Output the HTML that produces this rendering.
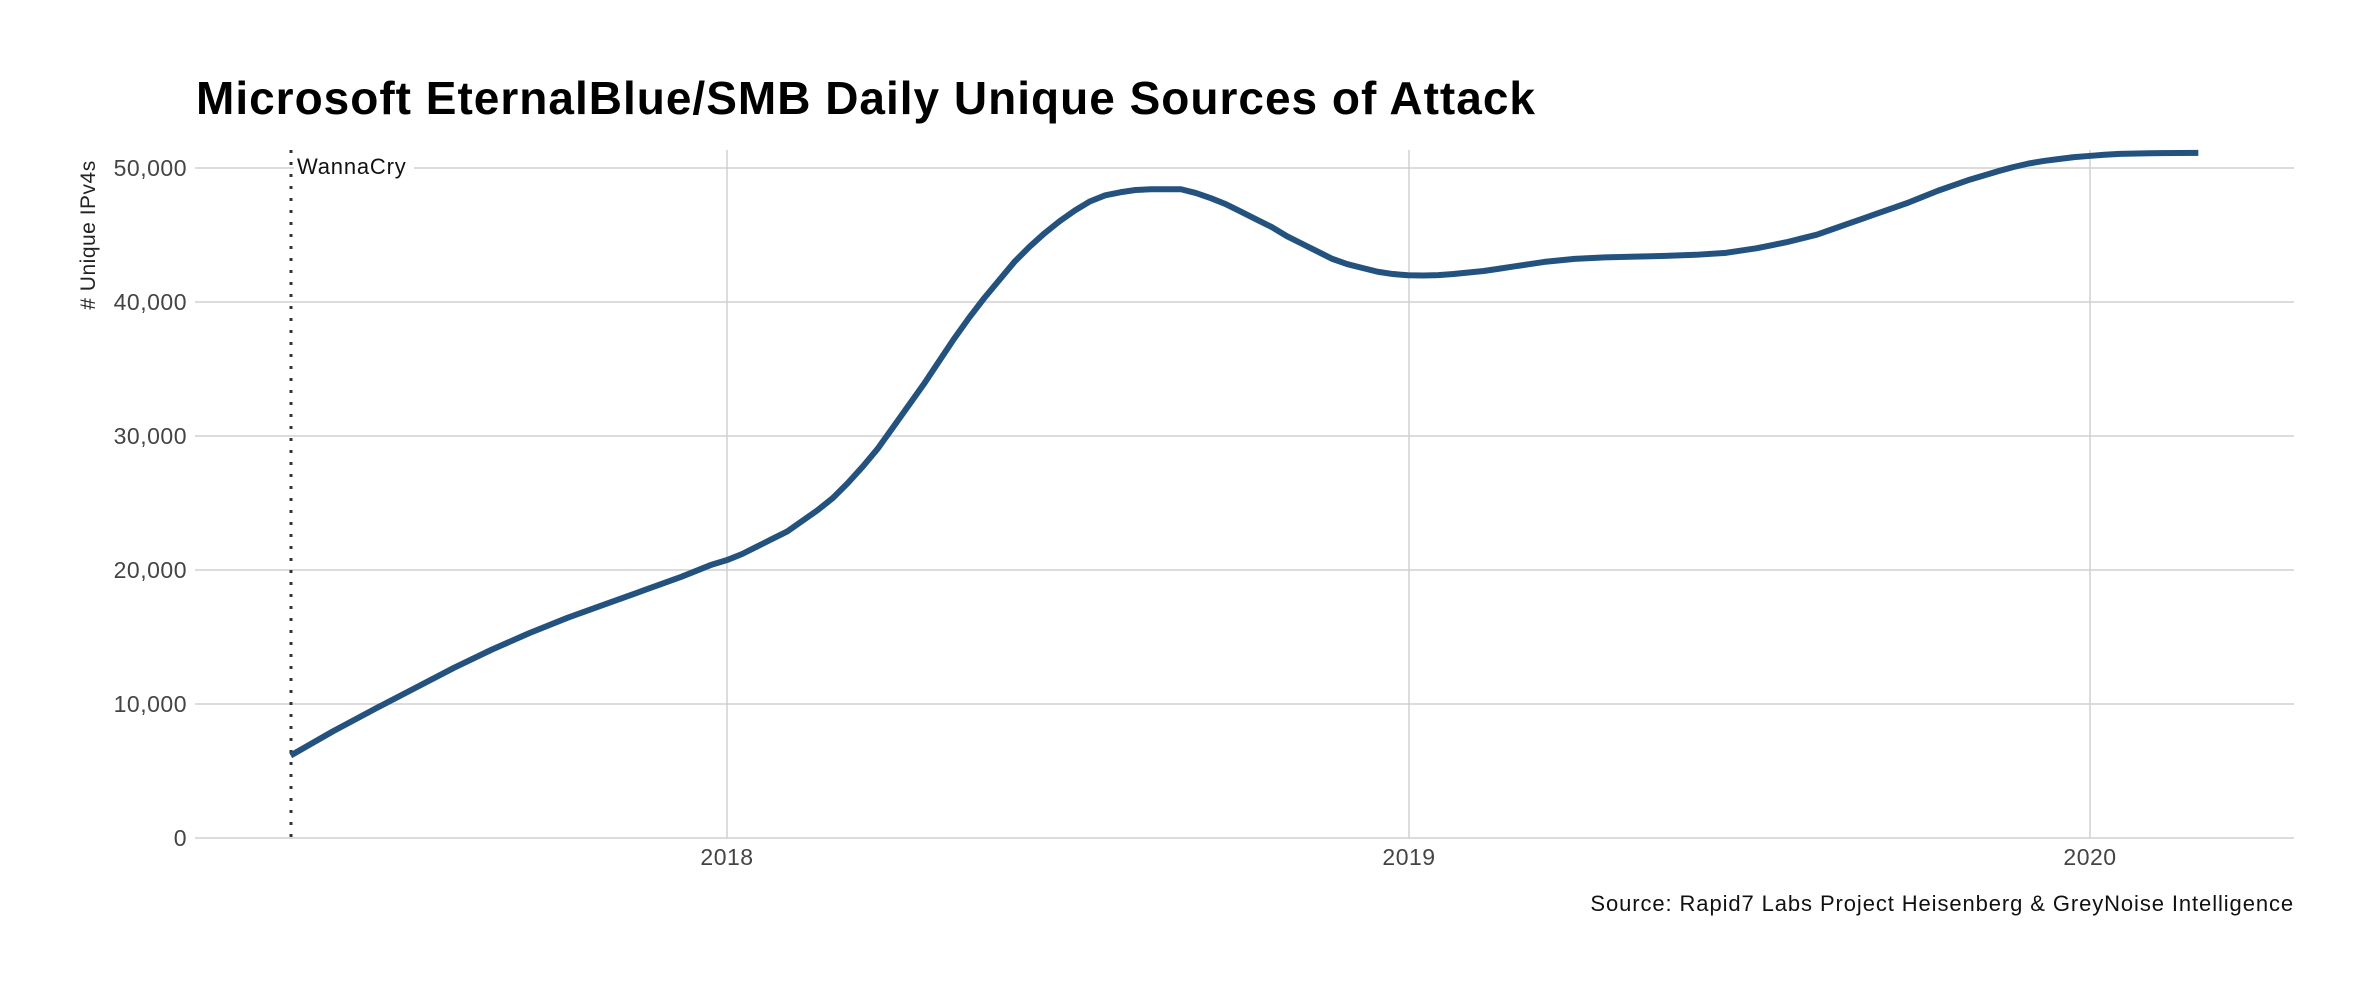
<!DOCTYPE html>
<html><head><meta charset="utf-8"><style>
body{margin:0;background:#fff;}
svg{display:block;font-family:"Liberation Sans",sans-serif;}
</style></head><body>
<svg width="2374" height="998" viewBox="0 0 2374 998" xmlns="http://www.w3.org/2000/svg">
<rect width="2374" height="998" fill="#fff"/>
<text x="196" y="114" font-size="46" font-weight="bold" fill="#000" letter-spacing="1">Microsoft EternalBlue/SMB Daily Unique Sources of Attack</text>
<g stroke="#d0d0d0" stroke-width="1.5">
<line x1="195" y1="838" x2="2294" y2="838"/>
<line x1="195" y1="704" x2="2294" y2="704"/>
<line x1="195" y1="570" x2="2294" y2="570"/>
<line x1="195" y1="436" x2="2294" y2="436"/>
<line x1="195" y1="302" x2="2294" y2="302"/>
<line x1="195" y1="168" x2="2294" y2="168"/>
<line x1="727" y1="150" x2="727" y2="838"/>
<line x1="1409" y1="150" x2="1409" y2="838"/>
<line x1="2090" y1="150" x2="2090" y2="838"/>
</g>
<rect x="294" y="155" width="120" height="26" fill="#fff"/>
<g font-size="23" fill="#444" text-anchor="end" letter-spacing="0.5">
<text x="187" y="846">0</text>
<text x="187" y="712">10,000</text>
<text x="187" y="578">20,000</text>
<text x="187" y="444">30,000</text>
<text x="187" y="310">40,000</text>
<text x="187" y="176">50,000</text>
</g>
<g font-size="23" fill="#444" text-anchor="middle" letter-spacing="0.5">
<text x="727" y="865">2018</text>
<text x="1409" y="865">2019</text>
<text x="2090" y="865">2020</text>
</g>
<text transform="translate(95,235) rotate(-90)" font-size="21" fill="#222" text-anchor="middle" letter-spacing="0.5"># Unique IPv4s</text>
<line x1="291" y1="150" x2="291" y2="838" stroke="#333" stroke-width="3" stroke-dasharray="3,9"/>
<text x="297" y="174" font-size="22" fill="#111" letter-spacing="0.8">WannaCry</text>
<g transform="scale(1.514)">
<polyline fill="none" stroke="#24527f" stroke-width="6" vector-effect="non-scaling-stroke" stroke-linejoin="round" stroke-linecap="butt"
points="192,499 220,483 250,467 275,454 300,441 325,429 350,418 375,408 400,399 425,390 450,381 470,373 480,370 490,366 500,361 510,356 520,351 530,344 540,337 550,329 560,319 570,308 580,296 590,282 600,268 610,254 620,239 630,224 640,210 650,197 660,185 670,173 680,163 690,154 700,146 710,139 720,133 730,129 740,127 750,125.5 760,125 770,125 780,125 790,127.5 800,131 810,135 820,140 830,145 840,150 850,156 860,161 870,166 880,171 890,174.5 900,177 910,179.5 920,181 930,181.8 940,182 950,181.7 960,181 970,180 980,179 990,177.5 1000,176 1010,174.5 1020,173 1030,172 1040,171 1050,170.5 1060,170 1080,169.5 1100,169 1120,168.3 1140,167 1150,165.5 1160,164 1170,162 1180,160 1190,157.5 1200,155 1210,151.5 1220,148 1230,144.5 1240,141 1250,137.5 1260,134 1270,130 1280,126 1290,122.5 1300,119 1310,116 1320,113 1330,110.3 1340,108 1350,106.3 1360,105 1370,103.8 1380,103 1390,102.2 1400,101.6 1420,101.2 1452,101"/>
</g>
<text x="2294" y="911" font-size="22" fill="#111" text-anchor="end" letter-spacing="0.9">Source: Rapid7 Labs Project Heisenberg &amp; GreyNoise Intelligence</text>
</svg>
</body></html>
